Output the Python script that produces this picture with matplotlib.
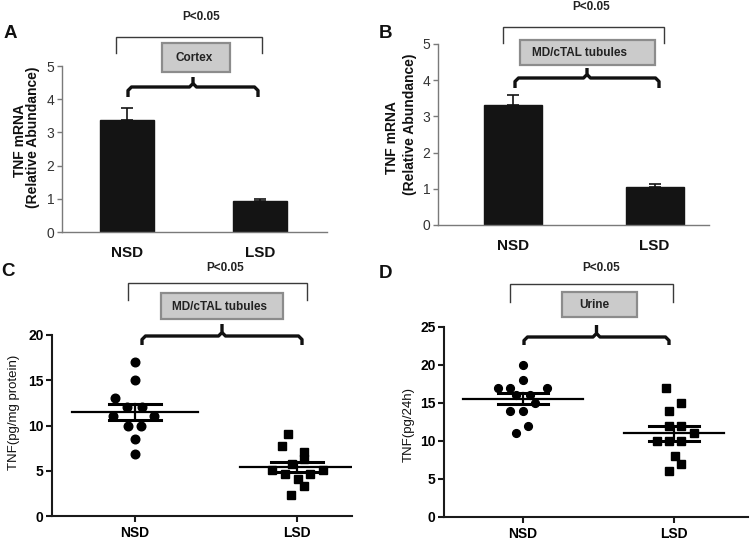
import matplotlib
matplotlib.use("Agg")
import matplotlib.pyplot as plt
import numpy as np
from matplotlib.patches import Rectangle

plt.rcParams['font.family'] = ['Liberation Sans', 'DejaVu Sans']

# ---------------- data ----------------
categories = ["NSD", "LSD"]

# Panel A: TNF mRNA, cortex
cortex_mean = [3.37, 0.93]
cortex_sem = [0.35, 0.07]

# Panel B: TNF mRNA, MD/cTAL tubules
tubule_mrna_mean = [3.32, 1.05]
tubule_mrna_sem = [0.26, 0.08]

# Panel C: TNF protein in MD/cTAL tubules (pg/mg protein)
tubule_nsd = [17, 15, 13, 12, 12, 11, 11, 10, 10, 8.5, 6.8]
tubule_nsd_jitter = [0, 0, -0.12, -0.05, 0.045, -0.135, 0.12, -0.045, 0.04, 0, 0]
tubule_lsd = [9.1, 7.7, 7.1, 6.3, 5.8, 5.1, 5.1, 4.6, 4.6, 4.1, 3.3, 2.3]
tubule_lsd_jitter = [-0.056, -0.093, 0.043, 0.043, -0.031, -0.154, 0.16, -0.074, 0.08, 0.006, 0.043, -0.037]

# Panel D: urinary TNF (pg/24h)
urine_nsd = [20, 18, 17, 17, 17, 16, 16, 15, 14, 14, 12, 11]
urine_nsd_jitter = [0, 0, -0.166, -0.086, 0.159, -0.046, 0.046, 0.08, -0.086, 0, 0.035, -0.046]
urine_lsd = [17, 15, 14, 12, 12, 11, 10, 10, 10, 8, 7, 6]
urine_lsd_jitter = [-0.053, 0.046, -0.033, -0.033, 0.046, 0.132, -0.113, -0.033, 0.046, 0.007, 0.046, -0.033]

W, H = 752, 544
fig = plt.figure(figsize=(W / 100, H / 100), dpi=100)


def px_axes(left, right, top, bottom):
    return fig.add_axes([left / W, 1 - bottom / H, (right - left) / W, (bottom - top) / H])


def bar_panel(ax, means, sems, xlim, width):
    x = np.arange(len(categories))
    ax.bar(x, means, width=width, color='#141414', edgecolor='#141414', zorder=2)
    ax.errorbar(x, means, yerr=[np.zeros(len(sems)), sems], fmt='none',
                ecolor='#141414', elinewidth=1.2, capsize=4.5, capthick=1.2, zorder=3)
    ax.set_xlim(*xlim)
    ax.set_ylim(0, 5)
    ax.set_yticks(range(0, 6))
    ax.set_xticks(x)
    ax.set_xticklabels(categories, fontsize=11, fontweight='bold', color='#111111')
    for s in ['top', 'right']:
        ax.spines[s].set_visible(False)
    for s in ['left', 'bottom']:
        ax.spines[s].set_color('#7a7a7a')
        ax.spines[s].set_linewidth(1.0)
    ax.tick_params(axis='y', length=3.5, width=1.0, color='#7a7a7a', labelsize=10,
                   labelcolor='#333333', pad=2)
    ax.tick_params(axis='x', length=0, pad=10)


def dot_panel(ax, groups, jitters, markers, xlim, ylim, yticks, halfmean, halfsem, ms):
    for i, (vals, jit, mk) in enumerate(zip(groups, jitters, markers)):
        vals = np.asarray(vals, dtype=float)
        ax.plot(i + np.asarray(jit), vals, linestyle='none', marker=mk, color='black',
                markersize=ms, zorder=2)
        m = vals.mean()
        s = vals.std(ddof=1) / np.sqrt(len(vals))
        ax.plot([i - halfmean[i], i + halfmean[i]], [m, m], color='black', lw=1.6, zorder=3)
        ax.plot([i - halfsem, i + halfsem], [m + s, m + s], color='black', lw=2.2, zorder=3)
        ax.plot([i - halfsem, i + halfsem], [m - s, m - s], color='black', lw=2.2, zorder=3)
        ax.plot([i, i], [m - s, m + s], color='black', lw=1.6, zorder=3)
    ax.set_xlim(*xlim)
    ax.set_ylim(*ylim)
    ax.set_yticks(yticks)
    ax.set_xticks(range(len(categories)))
    ax.set_xticklabels(categories, fontsize=11, fontweight='bold')
    for lab in ax.get_yticklabels():
        lab.set_fontweight('bold')
    for s in ['top', 'right']:
        ax.spines[s].set_visible(False)
    for s in ['left', 'bottom']:
        ax.spines[s].set_color('#1a1a1a')
        ax.spines[s].set_linewidth(1.5)
    ax.tick_params(axis='both', length=4, width=1.5, color='#1a1a1a', labelsize=10)
    ax.tick_params(axis='x', pad=3)
    ax.tick_params(axis='y', pad=2)
    ax.set_clip_on(False)


# ---- Panel A ----
axA = px_axes(62, 327, 66, 232)
bar_panel(axA, cortex_mean, cortex_sem, (-0.489, 1.504), 0.406)

# ---- Panel B ----
axB = px_axes(438, 709, 44, 225)
bar_panel(axB, tubule_mrna_mean, tubule_mrna_sem, (-0.53, 1.385), 0.41)

# ---- Panel C ----
axC = px_axes(52, 352, 335, 516)
dot_panel(axC, [tubule_nsd, tubule_lsd], [tubule_nsd_jitter, tubule_lsd_jitter], ['o', 's'],
          (-0.512, 1.34), (0, 20), [0, 5, 10, 15, 20], [0.39, 0.35], 0.16, 6.2)

# ---- Panel D ----
axD = px_axes(444, 748, 327, 517)
dot_panel(axD, [urine_nsd, urine_lsd], [urine_nsd_jitter, urine_lsd_jitter], ['o', 's'],
          (-0.523, 1.49), (0, 25), [0, 5, 10, 15, 20, 25], [0.4, 0.33], 0.165, 5.6)

# ---------------- annotations overlay (pixel coords) ----------------
ov = fig.add_axes([0, 0, 1, 1])
ov.set_xlim(0, W)
ov.set_ylim(H, 0)
ov.axis('off')
ov.set_zorder(10)
ov.patch.set_alpha(0)


def upper_bracket(x0, x1, top, bottom):
    ov.plot([x0, x0, x1, x1], [bottom, top, top, bottom], color='#3a3a3a', lw=1.0,
            solid_joinstyle='miter')


def curly(x0, x1, y, yend, ytip):
    xm = (x0 + x1) / 2
    r = 3.5
    kw = dict(color='#111111', lw=2.4, solid_capstyle='butt', solid_joinstyle='round')
    ov.plot([x0, x0, x0 + r, xm - r, xm, xm], [yend, y + r, y, y, y - r, ytip], **kw)
    ov.plot([xm, xm + r, x1 - r, x1, x1], [y - r, y, y, y + r, yend], **kw)


def label_box(x0, x1, top, bottom, text, tx):
    ov.add_patch(Rectangle((x0, top), x1 - x0, bottom - top, facecolor='#cbcbcb',
                           edgecolor='#8c8c8c', lw=1.6))
    ov.text(tx, (top + bottom) / 2 + 0.5, text, ha='center', va='center', fontsize=8.5,
            fontweight='bold', color='#222222')


def ptext(x, y):
    ov.text(x, y, 'P<0.05', ha='center', va='center', fontsize=8.5, fontweight='bold',
            color='#222222')


# Panel letters
for x, y, t in [(10, 34, 'A'), (385, 34, 'B'), (8, 271, 'C'), (385, 273, 'D')]:
    ov.text(x, y, t, ha='center', va='center', fontsize=13.5, fontweight='bold', color='#111111')

# A
ptext(201, 17.5)
upper_bracket(116, 262, 37, 53)
label_box(162, 230, 43, 72, 'Cortex', 194)
curly(128, 258, 87, 97, 77)
# B
ptext(591, 6.5)
upper_bracket(503, 664, 27, 43)
label_box(520, 655, 40, 65, 'MD/cTAL tubules', 580)
curly(515, 659, 78, 88, 68)
# C
ptext(225, 268)
upper_bracket(128, 307, 283, 300)
label_box(161, 283, 293, 319, 'MD/cTAL tubules', 220)
curly(142, 302, 336, 345, 324)
# D
ptext(601, 268)
upper_bracket(510, 673, 284, 302)
label_box(562, 637, 292, 317, 'Urine', 594)
curly(524, 669, 337, 345, 325)

# y labels
ov.text(20, 141, 'TNF mRNA', rotation=90, ha='center', va='center', fontsize=10,
        fontweight='bold', color='#111111')
ov.text(33, 137, '(Relative Abundance)', rotation=90, ha='center', va='center', fontsize=10,
        fontweight='bold', color='#111111')
ov.text(392, 138, 'TNF mRNA', rotation=90, ha='center', va='center', fontsize=10,
        fontweight='bold', color='#111111')
ov.text(410, 124, '(Relative Abundance)', rotation=90, ha='center', va='center', fontsize=10,
        fontweight='bold', color='#111111')
ov.text(14, 412, 'TNF(pg/mg protein)', rotation=90, ha='center', va='center', fontsize=9.5,
        color='#111111')
ov.text(409, 425, 'TNF(pg/24h)', rotation=90, ha='center', va='center', fontsize=9.5,
        color='#111111')

fig.savefig('out.png', dpi=100)
